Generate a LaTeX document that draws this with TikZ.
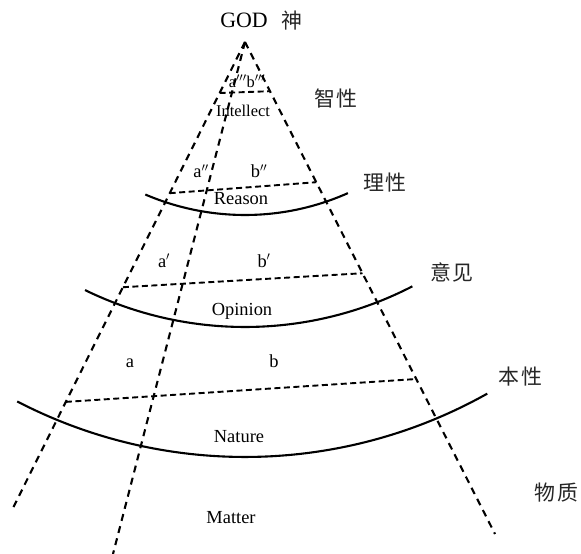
\documentclass[tikz,border=0pt]{standalone}
\usepackage{fontspec}
\setmainfont{Liberation Serif}
\newfontfamily\cjkfont{Noto Sans CJK SC}
\usepackage{tikz}
\usetikzlibrary{calc,positioning}

\begin{document}
\begin{tikzpicture}[
  x=1bp, y=1bp,
  % Line styles
  ray/.style={draw=black, line width=2.1bp, dash pattern=on 7bp off 5.5bp},
  level/.style={draw=black, line width=1.9bp, dash pattern=on 6bp off 3.5bp},
  sphere/.style={draw=black, line width=2.1bp},
  % Text styles
  title/.style={inner sep=0pt, anchor=base, font=\fontsize{22}{25}\selectfont},
  realm/.style={inner sep=0pt, anchor=base, font=\fontsize{18.5}{21}\selectfont},
  minor/.style={inner sep=0pt, anchor=base, font=\fontsize{16.5}{19}\selectfont},
  zh/.style={inner sep=0pt, font=\cjkfont\fontsize{21}{24}\selectfont, text=black!85}
]
  \useasboundingbox (0,0) rectangle (581,-554);

  % Cone: apex and feet of the three rays
  \coordinate (apex) at (245,-42);
  \coordinate (lfoot) at (12,-510);
  \coordinate (mfoot) at (113,-554);
  \coordinate (rfoot) at (495,-534);
  \coordinate (centre) at (245,38);

  \draw[ray] (apex) -- (lfoot);
  \draw[ray] (apex) -- (mfoot);
  \draw[ray] (apex) -- (rfoot);

  % Dashed levels between left and right ray
  \draw[level] ($(apex)!0.109!(lfoot)$) -- ($(apex)!0.100!(rfoot)$);
  \draw[level] ($(apex)!0.323!(lfoot)$) -- ($(apex)!0.285!(rfoot)$);
  \draw[level] ($(apex)!0.524!(lfoot)$) -- ($(apex)!0.470!(rfoot)$);
  \draw[level] ($(apex)!0.769!(lfoot)$) -- ($(apex)!0.685!(rfoot)$);

  % Spheres
  \draw[sphere] (centre) ++(-113.2:253) arc[start angle=-113.2, end angle=-66, radius=253];
  \draw[sphere] (centre) ++(-116:365) arc[start angle=-116, end angle=-62.7, radius=365];
  \draw[sphere] (centre) ++(-117.4:495) arc[start angle=-117.4, end angle=-60.7, radius=495];

  % Top
  \node[title] (god) at (244,-28) {GOD};
  \node[zh, right=13bp of god] (shen) {神};

  % Labels inside the cone
  \node[minor] (a3b3) at (247,-88) {a$'''$b$'''$};
  \node[minor] (intellect) at (243,-117) {Intellect};
  \node[realm] (a2) at (201,-178) {a$''$};
  \node[realm] (b2) at (259,-178) {b$''$};
  \node[realm] (reason) at (241,-205) {Reason};
  \node[realm] (a1) at (164,-267) {a$'$};
  \node[realm] (b1) at (264,-267) {b$'$};
  \node[realm] (opinion) at (242,-315) {Opinion};
  \node[realm] (a0) at (130,-367) {a};
  \node[realm] (b0) at (274,-367) {b};
  \node[realm] (nature) at (239,-442) {Nature};
  \node[realm] (matter) at (231,-523) {Matter};

  % Chinese names on the right
  \node[zh] (zhixing) at (336,-99) {智\hspace{2pt}性};
  \node[zh] (lixing) at (385,-183) {理\hspace{2pt}性};
  \node[zh] (yijian) at (452,-272) {意\hspace{2pt}见};
  \node[zh] (benxing) at (520,-377) {本\hspace{2pt}性};
  \node[zh] (wuzhi) at (556,-493) {物\hspace{2pt}质};

\end{tikzpicture}
\end{document}
